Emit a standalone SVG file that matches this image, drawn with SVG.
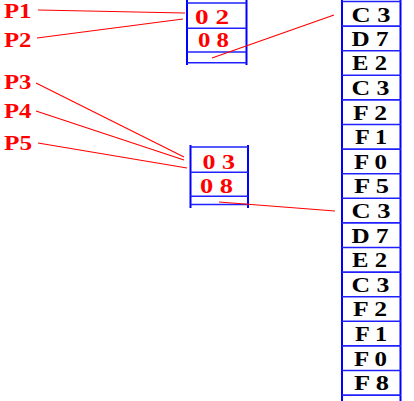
<svg xmlns="http://www.w3.org/2000/svg" width="414" height="401" viewBox="0 0 414 401">
<style>
.b{stroke:#0000ff;stroke-width:2;fill:none}
.h{stroke:#2020ff;stroke-width:1.6;fill:none}
.r{stroke:#ff0000;stroke-width:1.2;fill:none}
.pl{font-family:"Liberation Serif",serif;font-weight:bold;font-size:21px;fill:#ff0000}
.vt{font-family:"Liberation Serif",serif;font-weight:bold;font-size:22px;fill:#ff0000}
.ct{font-family:"Liberation Serif",serif;font-weight:bold;font-size:21.5px;fill:#000}
</style>
<rect width="414" height="401" fill="#fff"/>
<g id="labels">
<text class="pl" x="4" y="18" style="font-size:20px" textLength="27.5" lengthAdjust="spacingAndGlyphs">P1</text>
<text class="pl" x="4" y="47" textLength="27.5" lengthAdjust="spacingAndGlyphs">P2</text>
<text class="pl" x="4" y="89" textLength="27.5" lengthAdjust="spacingAndGlyphs">P3</text>
<text class="pl" x="4" y="117.5" textLength="27.5" lengthAdjust="spacingAndGlyphs">P4</text>
<text class="pl" x="4" y="150" textLength="28" lengthAdjust="spacingAndGlyphs">P5</text>
</g>
<g id="box1">
<line class="b" x1="187" y1="0" x2="187" y2="65"/>
<line class="b" x1="246.5" y1="0" x2="246.5" y2="65"/>
<line class="h" x1="187" y1="3" x2="246.5" y2="3"/>
<line class="h" x1="187" y1="28.3" x2="246.5" y2="28.3"/>
<line class="h" x1="187" y1="52" x2="246.5" y2="52"/>
<line class="h" x1="187" y1="62.7" x2="246.5" y2="62.7"/>
<text class="vt" x="195" y="24.3" textLength="34" lengthAdjust="spacingAndGlyphs">0 2</text>
<text class="vt" x="198" y="47" textLength="31" lengthAdjust="spacingAndGlyphs">0 8</text>
</g>
<g id="box2">
<line class="b" x1="190.5" y1="145" x2="190.5" y2="208"/>
<line class="b" x1="248" y1="145" x2="248" y2="208"/>
<line class="h" x1="190.5" y1="147" x2="248" y2="147"/>
<line class="h" x1="190.5" y1="172.3" x2="248" y2="172.3"/>
<line class="h" x1="190.5" y1="196.3" x2="248" y2="196.3"/>
<line class="h" x1="190.5" y1="204.5" x2="248" y2="204.5"/>
<text class="vt" x="202.5" y="169.3" textLength="32.5" lengthAdjust="spacingAndGlyphs">0 3</text>
<text class="vt" x="200" y="192.6" textLength="33" lengthAdjust="spacingAndGlyphs">0 8</text>
</g>
<g id="table">
<line class="b" x1="342" y1="0" x2="342" y2="401"/>
<line class="b" x1="400.5" y1="0" x2="400.5" y2="401"/>
<g class="h">
<line x1="342" y1="1.5" x2="401" y2="1.5"/>
<line x1="342" y1="26.1" x2="401" y2="26.1"/>
<line x1="342" y1="50.7" x2="401" y2="50.7"/>
<line x1="342" y1="75.3" x2="401" y2="75.3"/>
<line x1="342" y1="99.9" x2="401" y2="99.9"/>
<line x1="342" y1="124.5" x2="401" y2="124.5"/>
<line x1="342" y1="149.1" x2="401" y2="149.1"/>
<line x1="342" y1="173.7" x2="401" y2="173.7"/>
<line x1="342" y1="198.3" x2="401" y2="198.3"/>
<line x1="342" y1="222.9" x2="401" y2="222.9"/>
<line x1="342" y1="247.5" x2="401" y2="247.5"/>
<line x1="342" y1="272.1" x2="401" y2="272.1"/>
<line x1="342" y1="296.7" x2="401" y2="296.7"/>
<line x1="342" y1="321.3" x2="401" y2="321.3"/>
<line x1="342" y1="345.9" x2="401" y2="345.9"/>
<line x1="342" y1="370.5" x2="401" y2="370.5"/>
<line x1="342" y1="395.1" x2="401" y2="395.1"/>
</g>
<text class="ct" x="351.5" y="21.8" textLength="39" lengthAdjust="spacingAndGlyphs">C 3</text>
<text class="ct" x="351.5" y="45.8" textLength="37" lengthAdjust="spacingAndGlyphs">D 7</text>
<text class="ct" x="352" y="70.4" textLength="35" lengthAdjust="spacingAndGlyphs">E 2</text>
<text class="ct" x="351.5" y="95" textLength="38" lengthAdjust="spacingAndGlyphs">C 3</text>
<text class="ct" x="353" y="119.6" textLength="34" lengthAdjust="spacingAndGlyphs">F 2</text>
<text class="ct" x="355" y="144.2" textLength="32" lengthAdjust="spacingAndGlyphs">F 1</text>
<text class="ct" x="354" y="168.8" textLength="33" lengthAdjust="spacingAndGlyphs">F 0</text>
<text class="ct" x="354" y="193.4" textLength="35" lengthAdjust="spacingAndGlyphs">F 5</text>
<text class="ct" x="351.5" y="218.3" textLength="39" lengthAdjust="spacingAndGlyphs">C 3</text>
<text class="ct" x="351.5" y="242.6" textLength="37" lengthAdjust="spacingAndGlyphs">D 7</text>
<text class="ct" x="352" y="267.2" textLength="35" lengthAdjust="spacingAndGlyphs">E 2</text>
<text class="ct" x="351.5" y="291.8" textLength="38" lengthAdjust="spacingAndGlyphs">C 3</text>
<text class="ct" x="353" y="316.4" textLength="34" lengthAdjust="spacingAndGlyphs">F 2</text>
<text class="ct" x="355" y="341" textLength="32" lengthAdjust="spacingAndGlyphs">F 1</text>
<text class="ct" x="354" y="365.6" textLength="33" lengthAdjust="spacingAndGlyphs">F 0</text>
<text class="ct" x="354" y="390.2" textLength="35" lengthAdjust="spacingAndGlyphs">F 8</text>
</g>
<g id="connectors" class="r">
<line x1="38" y1="10" x2="185" y2="13"/>
<line x1="37" y1="38" x2="183" y2="19"/>
<line x1="212" y1="58" x2="334" y2="15"/>
<line x1="36" y1="83" x2="184" y2="157"/>
<line x1="36" y1="111" x2="184" y2="160"/>
<line x1="38" y1="143" x2="187" y2="168"/>
<line x1="219" y1="202" x2="335" y2="211"/>
</g>
</svg>
